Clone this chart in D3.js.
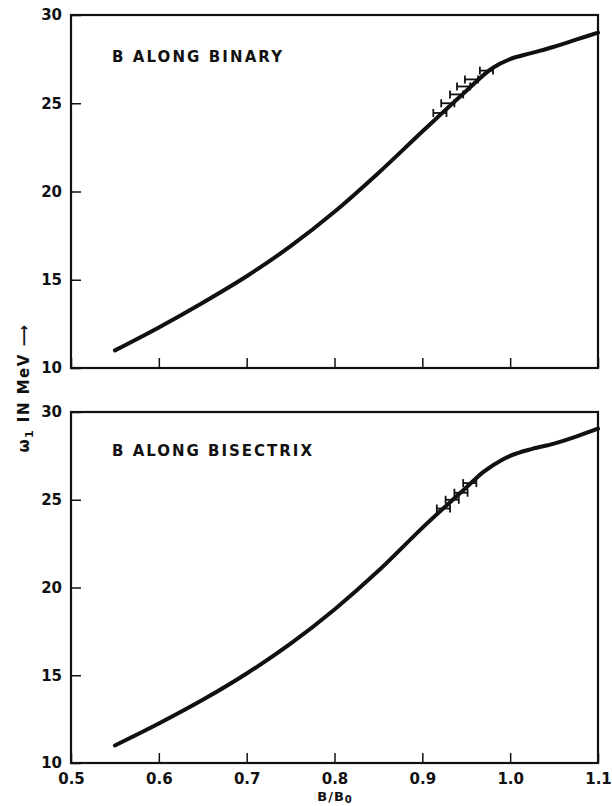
<!DOCTYPE html>
<html>
<head>
<meta charset="utf-8">
<script src="https://cdn.jsdelivr.net/npm/d3@7"></script>
<style>
  body { margin: 0; background: #fff; }
  svg { display: block; }
  text { font-family: "DejaVu Sans", sans-serif; font-weight: bold; fill: #111; }
</style>
</head>
<body>
<div></div>
<script>
// tick values
var xTicks = [0.5, 0.6, 0.7, 0.8, 0.9, 1.0, 1.1];
var yTicks = [10, 15, 20, 25, 30];

// B along binary (top panel)
var binaryB = [0.55, 0.6, 0.65, 0.7, 0.75, 0.8, 0.85, 0.9, 0.95, 0.98, 1.0, 1.025, 1.05, 1.075, 1.1];
var binaryW = [11.0, 12.3, 13.7, 15.2, 16.9, 18.85, 21.05, 23.4, 25.7, 27.0, 27.5, 27.85, 28.2, 28.6, 29.0];
var binaryErrB = [0.920, 0.929, 0.939, 0.947, 0.956, 0.973];
var binaryErrW = [24.45, 25.0, 25.5, 25.95, 26.35, 26.85];

// B along bisectrix (bottom panel)
var bisectB = [0.55, 0.6, 0.65, 0.7, 0.75, 0.8, 0.85, 0.9, 0.95, 0.97, 0.99, 1.0, 1.025, 1.05, 1.075, 1.1];
var bisectW = [11.0, 12.25, 13.6, 15.1, 16.8, 18.75, 20.95, 23.4, 25.7, 26.6, 27.25, 27.5, 27.9, 28.2, 28.6, 29.05];
var bisectErrB = [0.924, 0.934, 0.944, 0.954];
var bisectErrW = [24.5, 25.0, 25.4, 25.95];

var errHalf = 0.0075;  // half width of the horizontal error bars

var W = 612, H = 806;
var left = 71, right = 598;
var panels = [
  {top: 15, bottom: 368, title: "B ALONG BINARY", titleLen: 170, titleY: 62,
   b: binaryB, w: binaryW, eb: binaryErrB, ew: binaryErrW, labels: false},
  {top: 412, bottom: 763, title: "B ALONG BISECTRIX", titleLen: 200, titleY: 456,
   b: bisectB, w: bisectW, eb: bisectErrB, ew: bisectErrW, labels: true}
];

var svg = d3.select("div").append("svg")
    .attr("width", W)
    .attr("height", H);

var x = d3.scaleLinear().domain([0.5, 1.1]).range([left, right]);

panels.forEach(function(p) {
  var y = d3.scaleLinear().domain([10, 30]).range([p.bottom, p.top]);
  var g = svg.append("g");

  var xAxis = d3.axisBottom(x)
      .tickValues(xTicks)
      .tickSizeInner(-10)
      .tickSizeOuter(0)
      .tickPadding(10)
      .tickFormat(p.labels ? d3.format(".1f") : "");
  g.append("g")
      .attr("transform", "translate(0," + p.bottom + ")")
      .call(xAxis)
      .call(function(a) {
        a.select(".domain").remove();
        a.selectAll("line").attr("stroke", "#111").attr("stroke-width", 1.5);
        a.selectAll("text").attr("font-size", 15).attr("font-family", null);
      });

  var yAxis = d3.axisLeft(y)
      .tickValues(yTicks)
      .tickSizeInner(-10)
      .tickSizeOuter(0)
      .tickPadding(9)
      .tickFormat(d3.format("d"));
  g.append("g")
      .attr("transform", "translate(" + left + ",0)")
      .call(yAxis)
      .call(function(a) {
        a.select(".domain").remove();
        a.selectAll("line").attr("stroke", "#111").attr("stroke-width", 1.5);
        a.selectAll("text").attr("font-size", 15).attr("font-family", null);
      });

  // frame
  g.append("rect")
      .attr("x", left).attr("y", p.top)
      .attr("width", right - left).attr("height", p.bottom - p.top)
      .attr("fill", "none").attr("stroke", "#111").attr("stroke-width", 2.2);

  g.append("text")
      .attr("x", 112).attr("y", p.titleY)
      .attr("font-size", 15)
      .attr("textLength", p.titleLen)
      .attr("lengthAdjust", "spacing")
      .text(p.title);

  var line = d3.line()
      .x(function(d) { return x(d[0]); })
      .y(function(d) { return y(d[1]); })
      .curve(d3.curveMonotoneX);
  g.append("path")
      .datum(d3.zip(p.b, p.w))
      .attr("d", line)
      .attr("fill", "none")
      .attr("stroke", "#111")
      .attr("stroke-width", 4)
      .attr("stroke-linecap", "round");

  var err = g.selectAll(".err").data(d3.zip(p.eb, p.ew)).enter().append("g")
      .attr("class", "err")
      .attr("stroke", "#111").attr("stroke-width", 1.8);
  err.append("line")
      .attr("x1", function(d) { return x(d[0] - errHalf); })
      .attr("x2", function(d) { return x(d[0] + errHalf); })
      .attr("y1", function(d) { return y(d[1]); })
      .attr("y2", function(d) { return y(d[1]); });
  [-errHalf, errHalf].forEach(function(off) {
    err.append("line")
        .attr("x1", function(d) { return x(d[0] + off); })
        .attr("x2", function(d) { return x(d[0] + off); })
        .attr("y1", function(d) { return y(d[1]) - 4; })
        .attr("y2", function(d) { return y(d[1]) + 4; });
  });
});

// x axis title
var xt = svg.append("text")
    .attr("x", 335).attr("y", 801)
    .attr("text-anchor", "middle")
    .attr("font-size", 13)
    .attr("letter-spacing", 1);
xt.append("tspan").text("B/B");
xt.append("tspan").attr("font-size", 10).attr("dy", 2).text("0");

// y axis title
var yt = svg.append("text")
    .attr("transform", "translate(29,388) rotate(-90)")
    .attr("text-anchor", "middle")
    .attr("font-size", 15)
    .attr("letter-spacing", 1.5);
yt.append("tspan").text("ω");
yt.append("tspan").attr("font-size", 11).attr("dy", 4).text("1");
yt.append("tspan").attr("dy", -4).text(" IN MeV ⟶");
</script>
</body>
</html>
